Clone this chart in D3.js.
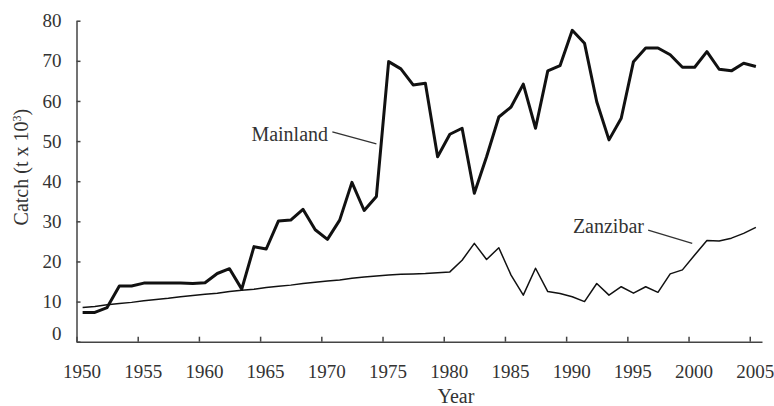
<!DOCTYPE html>
<html>
<head>
<meta charset="utf-8">
<script src="https://cdn.jsdelivr.net/npm/d3@7"></script>
<style>
  body { margin: 0; background: #fff; }
</style>
</head>
<body>
<div id="chart"></div>
<script>
var years = d3.range(1950, 2006);

var mainland = [
  7.3, 7.3, 8.5, 13.9, 13.9, 14.6, 14.6, 14.6, 14.6, 14.5,
  14.7, 17.0, 18.2, 13.1, 23.7, 23.1, 30.1, 30.3, 33.0, 27.9,
  25.5, 30.3, 39.7, 32.7, 36.2, 69.8, 68.0, 64.0, 64.4, 46.1,
  51.7, 53.2, 37.0, 46.1, 56.0, 58.5, 64.2, 53.2, 67.5, 68.8,
  77.6, 74.4, 59.8, 50.3, 55.7, 69.8, 73.2, 73.2, 71.5, 68.4,
  68.4, 72.3, 67.9, 67.5, 69.4, 68.6
];

var zanzibar = [
  8.5, 8.8, 9.2, 9.5, 9.8, 10.2, 10.5, 10.8, 11.2, 11.5,
  11.8, 12.1, 12.5, 12.8, 13.1, 13.5, 13.8, 14.1, 14.5, 14.8,
  15.1, 15.4, 15.8, 16.1, 16.4, 16.6, 16.8, 16.9, 17.0, 17.2,
  17.4, 20.3, 24.5, 20.5, 23.4, 16.6, 11.6, 18.3, 12.5, 12.0,
  11.2, 10.0, 14.5, 11.6, 13.7, 12.1, 13.7, 12.3, 16.9, 17.9,
  21.6, 25.2, 25.1, 25.8, 27.0, 28.5
];

var xTicks = d3.range(1950, 2006, 5);
var yTicks = d3.range(0, 81, 10);

// label text, anchor point, leader line (year, value)
var labels = [
  { name: "Mainland", at: [1970.55, 50.1], anchor: "end", lead: [[1970.9, 52.3], [1974.5, 49.3]] },
  { name: "Zanzibar", at: [1990.55, 27.1], anchor: "start", lead: [[1996.7, 27.8], [2000.3, 24.5]] }
];

var width = 774, height = 406;
var serif = "'Liberation Serif', 'Times New Roman', serif";

var svg = d3.select("#chart").append("svg")
  .attr("width", width)
  .attr("height", height)
  .attr("font-family", serif);

var x = d3.scaleLinear().domain([1950, 2006]).range([76.5, 762]);
var y = d3.scaleLinear().domain([0, 80]).range([341.7, 20.7]);

// points sit in the middle of each year
var line = d3.line()
  .x(function (d) { return x(d[0] + 0.5) })
  .y(function (d) { return y(d[1]) });

var xAxis = svg.append("g")
  .attr("transform", "translate(0," + y(0) + ")")
  .call(d3.axisBottom(x).tickValues(xTicks).tickFormat(d3.format("d"))
    .tickSizeInner(-5).tickSizeOuter(0).tickPadding(23));

xAxis.selectAll("text").attr("dx", 5);

var yAxis = svg.append("g")
  .attr("transform", "translate(" + x(1950) + ",0)")
  .call(d3.axisLeft(y).tickValues(yTicks)
    .tickSizeInner(-4).tickSizeOuter(0).tickPadding(15));

// the zero label sits a little high in the original
yAxis.selectAll("text").attr("dy", function (d) { return d === 0 ? "-0.1em" : "0.32em" });

svg.selectAll(".tick text")
  .attr("fill", "#333")
  .style("font-family", serif)
  .style("font-size", "19px");

svg.selectAll(".domain, .tick line")
  .attr("stroke", "#444")
  .attr("stroke-width", 1.5);

svg.append("path")
  .datum(years.map(function (d, i) { return [d, zanzibar[i]] }))
  .attr("fill", "none")
  .attr("stroke", "#111")
  .attr("stroke-width", 1.5)
  .attr("stroke-linejoin", "round")
  .attr("d", line);

svg.append("path")
  .datum(years.map(function (d, i) { return [d, mainland[i]] }))
  .attr("fill", "none")
  .attr("stroke", "#111")
  .attr("stroke-width", 3)
  .attr("stroke-linejoin", "round")
  .attr("d", line);

labels.forEach(function (l) {
  svg.append("text")
    .attr("x", x(l.at[0]))
    .attr("y", y(l.at[1]))
    .attr("text-anchor", l.anchor)
    .attr("fill", "#333")
    .style("font-family", serif)
    .style("font-size", "20px")
    .text(l.name);

  svg.append("line")
    .attr("x1", x(l.lead[0][0])).attr("y1", y(l.lead[0][1]))
    .attr("x2", x(l.lead[1][0])).attr("y2", y(l.lead[1][1]))
    .attr("stroke", "#333")
    .attr("stroke-width", 1.3);
});

// axis titles
svg.append("text")
  .attr("x", x(1981))
  .attr("y", 403)
  .attr("text-anchor", "middle")
  .attr("fill", "#333")
  .style("font-family", serif)
  .style("font-size", "20px")
  .text("Year");

var yTitle = svg.append("text")
  .attr("transform", "translate(28," + y(43.5) + ") rotate(-90)")
  .attr("text-anchor", "middle")
  .attr("fill", "#333")
  .style("font-family", serif)
  .style("font-size", "20px");

yTitle.append("tspan").text("Catch (t x 10");
yTitle.append("tspan").attr("dy", -7).style("font-size", "12px").text("3");
yTitle.append("tspan").attr("dy", 7).text(")");
</script>
</body>
</html>
